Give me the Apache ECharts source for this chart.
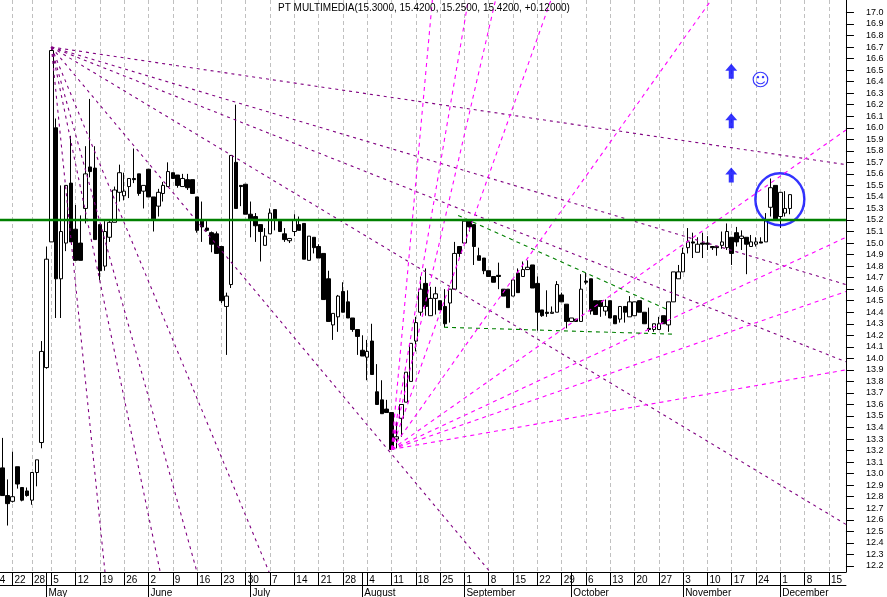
<!DOCTYPE html>
<html>
<head>
<meta charset="utf-8">
<title>PT MULTIMEDIA</title>
<style>
html, body { margin: 0; padding: 0; background: #fff; overflow: hidden; }
#chart { width: 887px; height: 597px; }
</style>
<script src="https://cdn.jsdelivr.net/npm/echarts@6/dist/echarts.min.js"></script>
</head>
<body>
<div id="chart"></div>
<script>
// daily prices, one entry per bar
var opens = [13.05,12.81,12.76,13.06,12.88,12.85,12.77,13.01,13.27,13.92,15.01,16.00,14.69,15.00,15.52,15.12,15.00,15.30,15.66,15.65,15.16,14.80,15.05,15.18,15.44,15.41,15.49,15.56,15.60,15.45,
    15.64,15.40,15.32,15.43,15.49,15.61,15.59,15.49,15.55,15.55,15.40,15.19,15.13,15.09,15.08,14.97,14.45,14.64,15.70,15.50,15.51,15.25,15.23,15.16,14.98,15.08,15.29,15.19,15.08,15.02,
    15.10,15.16,15.17,14.85,15.05,14.97,14.91,14.69,14.29,14.36,14.58,14.49,14.35,14.25,14.07,14.01,14.15,13.71,13.64,13.56,13.53,13.30,13.48,13.62,13.80,14.15,14.40,14.65,14.37,14.52,
    14.50,14.45,14.48,14.60,14.97,15.00,15.19,15.16,14.89,14.87,14.76,14.71,14.72,14.60,14.60,14.54,14.74,14.71,14.77,14.81,14.65,14.42,14.40,14.39,14.40,14.55,14.47,14.32,14.34,14.32,
    14.67,14.69,14.50,14.50,14.41,14.50,14.37,14.34,14.45,14.36,14.37,14.50,14.40,14.26,14.25,14.25,14.37,14.29,14.49,14.69,14.75,14.96,15.01,14.92,15.00,15.00,14.97,14.97,14.98,14.96,
    15.05,15.09,15.04,15.05,14.97,14.99,15.01,15.01,15.31,15.50,15.23,15.26,15.30];
var closes = [12.81,12.74,12.80,12.91,12.77,12.81,13.01,13.12,14.06,14.86,16.67,14.69,15.10,15.50,15.01,14.85,14.85,15.60,15.62,15.03,14.76,15.10,15.18,15.46,15.61,15.45,15.56,15.55,15.43,15.50,
    15.40,15.21,15.44,15.50,15.62,15.56,15.50,15.56,15.48,15.43,15.11,15.14,15.11,14.99,14.91,14.50,14.54,15.76,15.30,15.49,15.25,15.21,15.15,15.10,15.06,15.26,15.21,15.10,15.03,15.04,
    15.20,15.11,14.86,15.06,14.96,14.87,14.51,14.32,14.39,14.54,14.40,14.35,14.25,14.19,14.02,14.06,13.86,13.60,13.52,13.53,13.21,13.32,13.60,13.88,14.13,14.31,14.60,14.45,14.52,14.56,
    14.42,14.30,14.60,14.91,14.91,15.19,15.14,14.97,14.85,14.76,14.71,14.66,14.71,14.54,14.44,14.68,14.57,14.77,14.79,14.61,14.40,14.37,14.39,14.40,14.64,14.49,14.32,14.35,14.32,14.60,
    14.66,14.41,14.38,14.45,14.45,14.35,14.30,14.45,14.40,14.49,14.49,14.40,14.30,14.25,14.30,14.30,14.30,14.49,14.75,14.75,14.91,15.01,15.00,14.99,14.99,14.99,14.96,14.96,15.01,15.10,
    14.91,15.01,15.06,14.99,15.01,15.01,15.00,15.20,15.48,15.21,15.44,15.30,15.42];
var lows = [12.81,12.55,12.75,12.87,12.76,12.80,12.73,12.89,13.22,13.91,15.01,14.35,14.35,14.93,15.01,14.85,14.85,15.17,15.57,15.03,14.68,14.76,15.01,15.18,15.36,15.37,15.39,15.52,15.41,15.30,
    15.40,15.10,15.23,15.36,15.49,15.56,15.48,15.49,15.46,15.43,15.09,15.01,15.10,14.92,14.91,14.48,14.03,14.61,15.30,15.32,15.25,15.05,15.01,14.84,14.98,15.08,15.11,15.10,15.01,15.00,
    15.06,15.11,14.86,14.85,14.91,14.87,14.51,14.32,14.16,14.23,14.40,14.35,14.23,14.03,14.02,13.81,13.86,13.60,13.52,13.53,13.21,13.22,13.32,13.62,13.80,14.06,14.37,14.37,14.37,14.38,
    14.42,14.27,14.31,14.60,14.88,15.00,15.10,14.81,14.85,14.73,14.71,14.66,14.60,14.54,14.44,14.54,14.57,14.71,14.77,14.61,14.24,14.36,14.36,14.39,14.40,14.49,14.26,14.32,14.32,14.32,
    14.64,14.38,14.38,14.36,14.37,14.35,14.30,14.31,14.31,14.36,14.37,14.40,14.30,14.23,14.23,14.25,14.30,14.23,14.49,14.69,14.75,14.91,14.87,14.92,14.87,14.94,14.94,14.89,14.95,14.94,
    14.81,14.97,14.94,14.73,14.97,14.97,15.00,15.01,15.23,15.21,15.13,15.23,15.25];
var highs = [13.31,12.95,13.19,13.06,12.88,12.88,13.01,13.12,14.15,14.97,16.70,16.08,15.50,15.50,15.93,15.33,15.24,15.84,16.25,15.84,15.16,15.19,15.19,15.49,15.68,15.61,15.56,15.82,15.60,15.50,
    15.64,15.40,15.47,15.53,15.70,15.61,15.59,15.60,15.60,15.55,15.40,15.36,15.19,15.10,15.10,14.97,14.57,15.76,16.20,15.50,15.51,15.36,15.26,15.16,15.13,15.30,15.29,15.19,15.13,15.04,
    15.25,15.23,15.17,15.06,15.05,14.99,14.91,14.76,14.39,14.55,14.66,14.59,14.35,14.25,14.20,14.16,14.30,13.95,13.81,13.64,13.53,13.45,13.60,13.88,14.13,14.36,14.71,14.78,14.62,14.62,
    14.50,14.60,14.60,15.01,14.97,15.19,15.20,15.16,14.96,14.87,14.76,14.71,14.83,14.60,14.60,14.68,14.78,14.84,14.85,14.81,14.71,14.42,14.59,14.45,14.67,14.57,14.47,14.35,14.34,14.73,
    14.74,14.69,14.50,14.50,14.51,14.50,14.37,14.45,14.45,14.54,14.49,14.50,14.40,14.44,14.30,14.36,14.37,14.49,14.75,14.81,14.96,15.13,15.09,15.05,15.09,15.06,14.97,14.97,15.10,15.17,
    15.05,15.14,15.11,15.05,15.07,15.05,15.05,15.26,15.56,15.50,15.44,15.45,15.42];

// x axis labels and the bar slot they sit on
var weekSlots = [0,3,7,11,16,21,26,31,36,41,46,51,56,61,66,71,76,81,86,91,96,101,106,111,116,121,126,131,136,141,146,151,156,161,166,171];
var weekLabels = ['4','22','28','5','12','19','26','2','9','16','23','30','7','14','21','28','4','11','18','25','1','8','15','22','29','6','13','20','27','3','10','17','24','1','8','15'];
var monthSlots = [10,31,52,75,96,118,141,161];
var monthLabels = ['May','June','July','August','September','October','November','December'];
var priceTicks = [12.2,12.3,12.4,12.5,12.6,12.7,12.8,12.9,13.0,13.1,13.2,13.3,13.4,13.5,13.6,13.7,13.8,13.9,14.0,14.1,14.2,14.3,14.4,14.5,14.6,14.7,14.8,14.9,15.0,15.1,15.2,15.3,15.4,15.5,15.6,15.7,15.8,15.9,16.0,16.1,16.2,16.3,16.4,16.5,16.6,16.7,16.8,16.9,17.0];

// drawn lines, as [slot, price]
var peakPoint = [11, 16.70];
var peakFanEnds = [[22.04,12.147],[33.4,12.147],[40.97,12.147],[55.8,12.147],[101.3,12.147],[174.5,12.56],[174.5,13.97],[174.5,14.64],[174.5,15.68]];
var lowPoint = [81, 13.21];
var lowFanEnds = [[89.4,17.108],[96.8,17.108],[102.4,17.108],[113.8,17.108],[146.8,17.108],[174.5,15.98],[174.5,15.05],[174.5,14.58],[174.5,13.90]];
var greenUpper = [[94.7,15.24],[137.9,14.42]];
var greenLower = [[91.8,14.27],[138.7,14.21]];
var resistance = [[-0.5,15.2],[174.5,15.2]];

// annotations
var arrowPoints = [[150.9,16.49],[150.9,16.06],[150.9,15.59]];
var smileyPoint = [[156.9,16.40]];
var ringPoint = [[160.9,15.38]];

var slotCount = 175;
var dayCategories = [], monthCategories = [];
for (var s = 0; s < slotCount; s++) {
    var w = weekSlots.indexOf(s), m = monthSlots.indexOf(s);
    dayCategories.push(w >= 0 ? weekLabels[w] : '');
    monthCategories.push(m >= 0 ? monthLabels[m] : '');
}
var candleData = [];
for (var i = 0; i < opens.length; i++) {
    candleData.push([i + 1, opens[i], closes[i], lows[i], highs[i]]);
}

function isLabelled(index, value) {
    return value !== '';
}
function fanSeries(origin, ends, color, dash) {
    return ends.map(function (end) {
        return dashedLine([origin, end], color, dash);
    });
}
function dashedLine(points, color, dash) {
    return {
        type: 'line',
        xAxisIndex: 2,
        data: points,
        symbol: 'none',
        silent: true,
        lineStyle: {color: color, width: 1.1, type: dash}
    };
}

var chart = echarts.init(document.getElementById('chart'));
var series = [{
    type: 'candlestick',
    xAxisIndex: 0,
    barWidth: 4,
    encode: {x: 0, y: [1, 2, 3, 4]},
    itemStyle: {color: '#fff', color0: '#000', borderColor: '#000', borderColor0: '#000', borderWidth: 1},
    data: candleData
}];
series = series.concat(fanSeries(peakPoint, peakFanEnds, '#800080', [3, 4]));
series = series.concat(fanSeries(lowPoint, lowFanEnds, '#ff00ff', [4, 4]));
series.push(dashedLine(greenUpper, '#008000', [4, 4]));
series.push(dashedLine(greenLower, '#008000', [4, 4]));
series.push({
    type: 'line',
    xAxisIndex: 2,
    data: resistance,
    symbol: 'none',
    silent: true,
    lineStyle: {color: '#008000', width: 2.5}
});
series.push({
    type: 'scatter',
    xAxisIndex: 2,
    symbol: 'path://M6 0L12 7H8.5V15H3.5V7H0Z',
    symbolSize: [12, 15],
    itemStyle: {color: '#0000ff'},
    data: arrowPoints
});
series.push({
    type: 'scatter',
    xAxisIndex: 2,
    symbol: 'circle',
    symbolSize: 1,
    itemStyle: {color: 'transparent'},
    label: {
        show: true,
        position: 'inside',
        formatter: '\u263A',
        fontFamily: 'DejaVu Sans',
        fontSize: 18,
        color: '#0000ff'
    },
    data: smileyPoint
});
series.push({
    type: 'scatter',
    xAxisIndex: 2,
    symbol: 'path://M0 50A50 50 0 1 1 100 50A50 50 0 1 1 0 50Z',
    symbolSize: [49, 52],
    itemStyle: {color: 'none', borderColor: '#0000ff', borderWidth: 2.5},
    data: ringPoint
});

var option = {
    animation: false,
    backgroundColor: '#fff',
    title: {
        text: 'PT MULTIMEDIA(15.3000, 15.4200, 15.2500, 15.4200, +0.12000)',
        left: 273,
        top: -2,
        textStyle: {fontFamily: 'Liberation Sans', fontSize: 10, fontWeight: 'normal', color: '#000'}
    },
    grid: {left: -4.56, top: 0, width: 850.5, height: 572, outerBoundsMode: 'none'},
    xAxis: [{
        type: 'category',
        data: dayCategories,
        axisLine: {lineStyle: {color: '#000', width: 1}},
        axisTick: {
            show: true,
            alignWithLabel: true,
            length: 13,
            lineStyle: {color: '#000'},
            interval: function (index) {
                return weekSlots.indexOf(index) > 0 || monthSlots.indexOf(index) >= 0;
            }
        },
        axisLabel: {
            interval: isLabelled,
            align: 'left',
            margin: 3,
            padding: [0, 0, 0, 2],
            color: '#000',
            fontFamily: 'Liberation Sans',
            fontSize: 10
        },
        splitLine: {
            show: true,
            alignWithLabel: true,
            interval: isLabelled,
            lineStyle: {color: '#c0c0c0', width: 1, type: [4, 3]}
        }
    }, {
        type: 'category',
        data: monthCategories,
        position: 'bottom',
        offset: 13,
        axisLine: {lineStyle: {color: '#000', width: 1}},
        axisTick: {
            show: true,
            alignWithLabel: true,
            length: 12,
            lineStyle: {color: '#000'},
            interval: isLabelled
        },
        axisLabel: {
            interval: isLabelled,
            align: 'left',
            margin: 3,
            padding: [0, 0, 0, 2],
            color: '#000',
            fontFamily: 'Liberation Sans',
            fontSize: 10
        },
        splitLine: {show: false}
    }, {
        type: 'value',
        show: false,
        min: -0.5,
        max: 174.5
    }],
    yAxis: {
        type: 'value',
        position: 'right',
        min: 12.147,
        max: 17.108,
        axisLine: {show: true, onZero: false, lineStyle: {color: '#000', width: 1}},
        axisTick: {show: true, length: 8, lineStyle: {color: '#000'}, customValues: priceTicks},
        axisLabel: {
            customValues: priceTicks,
            margin: 20,
            color: '#000',
            fontFamily: 'Liberation Sans',
            fontSize: 9,
            formatter: function (v) {
                return v.toFixed(1);
            }
        },
        splitLine: {show: false}
    },
    series: series
};
chart.setOption(option);
</script>
</body>
</html>
